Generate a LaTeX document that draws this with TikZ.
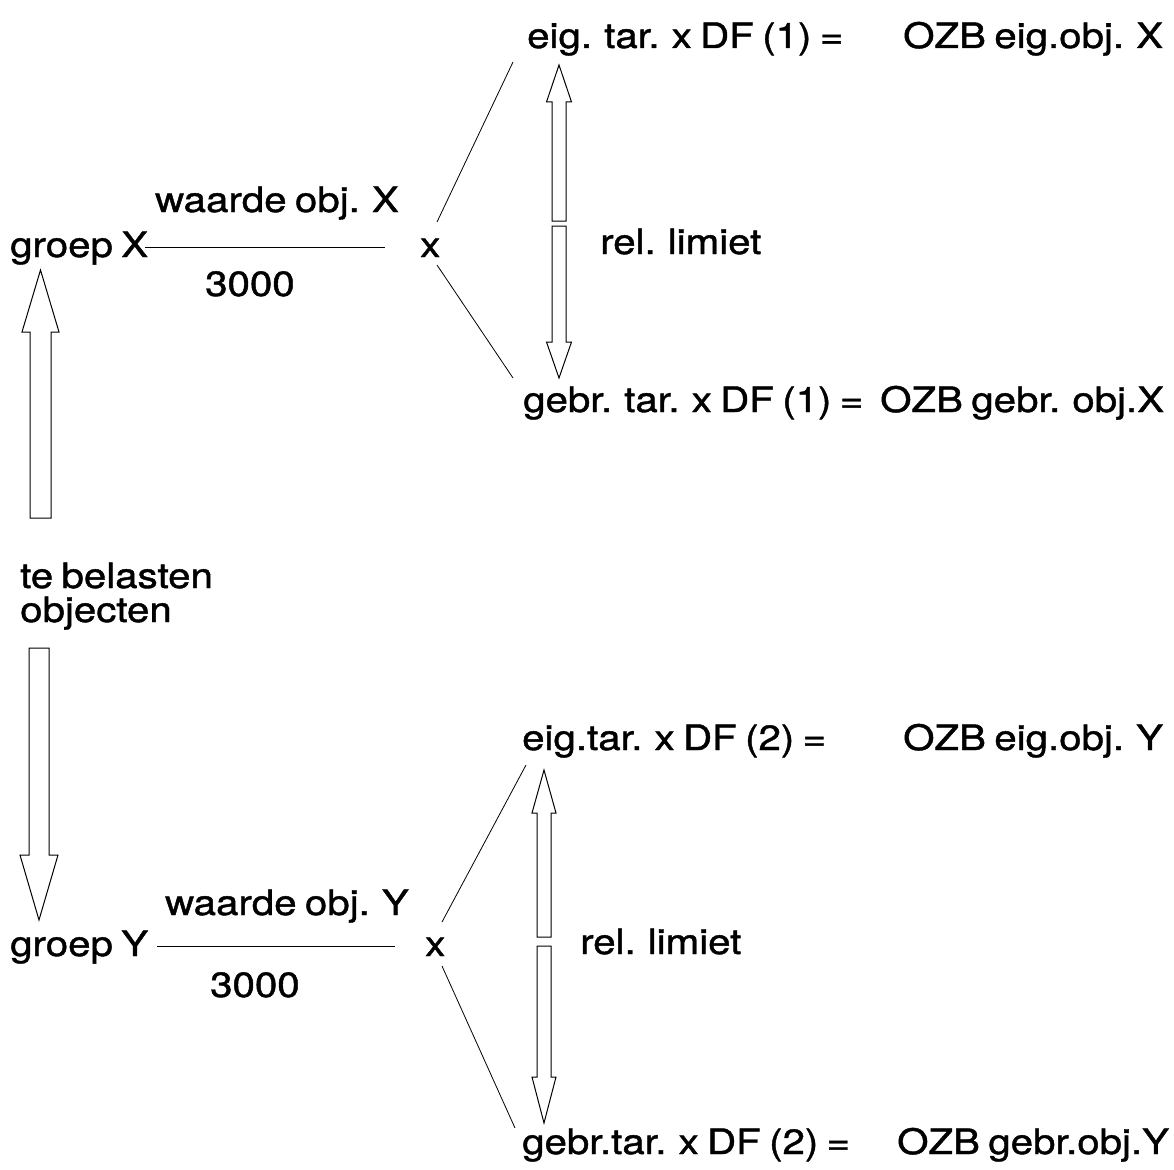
\documentclass[tikz,border=0pt]{standalone}
\usepackage{fontspec}
\setmainfont[FakeStretch=1.15,WordSpace=0.75,FakeBold=1.2]{TeX Gyre Heros}
\begin{document}
\begin{tikzpicture}[x=1pt,y=-1pt,
  lbl/.style={anchor=base west,inner sep=0pt,font=\fontsize{35}{40}\selectfont},
  thin/.style={line width=0.8pt},
  blk/.style={draw,line width=1pt,fill=white,line join=miter}]
\newcommand\blkarrow[6]{%
  \draw[blk] ({#1-#5},#2) -- ({#1-#5},#3) -- ({#1-#6},#3) -- (#1,#4) -- ({#1+#6},#3) -- ({#1+#5},#3) -- ({#1+#5},#2) -- cycle;}
\useasboundingbox (0,0) rectangle (1174,1169);
% ---- upper group ----
\node[lbl] (eigA) at (527,48) {eig. tar. x DF (1) =};
\node[lbl] (ozbeA) at (903,48) {OZB eig.obj. X};
\node[lbl] (waardeX) at (155,212) {waarde obj. X};
\node[lbl] (groepX) at (10,257) {groep X};
\node[lbl] (xA) at (420,257) {x};
\node[lbl] (nA) at (205,296) {3000};
\node[lbl] (relA) at (600,254) {rel. limiet};
\node[lbl] (gebrA) at (523,412) {gebr. tar. x DF (1) =};
\node[lbl] (ozbgA) at (880,412) {OZB gebr. obj.X};
\coordinate (lineXs) at (145,247);
\coordinate (lineXe) at (385,247);
\draw[thin] (lineXs) -- (lineXe);
\coordinate (xAu) at (437,222);
\coordinate (xAd) at (437,265);
\coordinate (eigAc) at (513,62);
\coordinate (gebrAc) at (513,378);
\draw[thin] (xAu) -- (eigAc);
\draw[thin] (xAd) -- (gebrAc);
\blkarrow{559}{221}{102}{65}{7}{12.5}
\blkarrow{559}{226}{342}{378}{7}{12.5}
% ---- left column ----
\blkarrow{40.5}{518}{332}{270}{10.5}{18.5}
\node[lbl] (teb) at (20,588) {te belasten};
\node[lbl] (obj) at (20,622) {objecten};
\blkarrow{39}{648}{855}{920}{10}{19}
% ---- lower group ----
\node[lbl] (eigB) at (522,750) {eig.tar. x DF (2) =};
\node[lbl] (ozbeB) at (903,750) {OZB eig.obj. Y};
\node[lbl] (waardeY) at (165,915) {waarde obj. Y};
\node[lbl] (groepY) at (10,956) {groep Y};
\node[lbl] (xB) at (425,956) {x};
\node[lbl] (nB) at (210,997) {3000};
\node[lbl] (relB) at (580,954) {rel. limiet};
\node[lbl] (gebrB) at (522,1154) {gebr.tar. x DF (2) =};
\node[lbl] (ozbgB) at (897,1154) {OZB gebr.obj.Y};
\coordinate (lineYs) at (157,946);
\coordinate (lineYe) at (395,946);
\draw[thin] (lineYs) -- (lineYe);
\coordinate (xBu) at (442,922);
\coordinate (xBd) at (442,966);
\coordinate (eigBc) at (526,765);
\coordinate (gebrBc) at (515,1128);
\draw[thin] (xBu) -- (eigBc);
\draw[thin] (xBd) -- (gebrBc);
\blkarrow{544}{937}{813}{770}{7}{12}
\blkarrow{544}{946}{1077}{1123}{7}{12}
\end{tikzpicture}
\end{document}
